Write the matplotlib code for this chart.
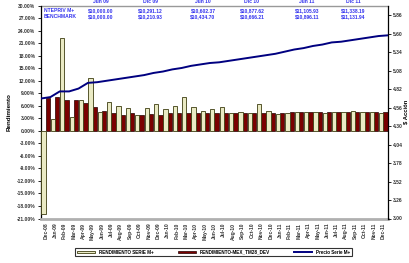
import matplotlib
matplotlib.use('Agg')
import matplotlib.pyplot as plt
import numpy as np

plt.rcParams['font.family'] = ['Liberation Sans', 'DejaVu Sans']

# month labels (Dec-08 .. Dec-11)
months = ['Dec-08', 'Jan-09', 'Feb-09', 'Mar-09', 'Apr-09', 'May-09', 'Jun-09',
          'Jul-09', 'Aug-09', 'Sep-09', 'Oct-09', 'Nov-09', 'Dec-09',
          'Jan-10', 'Feb-10', 'Mar-10', 'Apr-10', 'May-10', 'Jun-10',
          'Jul-10', 'Aug-10', 'Sep-10', 'Oct-10', 'Nov-10', 'Dec-10',
          'Jan-11', 'Feb-11', 'Mar-11', 'Apr-11', 'May-11', 'Jun-11',
          'Jul-11', 'Aug-11', 'Sep-11', 'Oct-11', 'Nov-11', 'Dec-11']

# monthly yields, %
rend_serie = [-20.0, 2.9, 22.2, 3.3, 7.3, 12.7, 4.5, 7.0, 6.0, 5.5, 3.9, 5.5, 6.3,
              5.1, 6.0, 8.1, 5.7, 4.7, 5.2, 5.6, 4.3, 4.5, 4.3, 6.5, 4.7,
              4.1, 4.3, 4.5, 4.4, 4.6, 4.3, 4.5, 4.4, 4.7, 4.5, 4.6, 4.3]
rend_bench = [7.9, 8.1, 7.3, 7.3, 6.7, 5.7, 4.7, 4.3, 3.7, 4.3, 3.8, 4.0, 3.9,
              4.2, 4.3, 4.3, 4.3, 4.2, 4.3, 4.2, 4.3, 4.2, 4.3, 4.2, 4.3,
              4.3, 4.4, 4.4, 4.4, 4.4, 4.4, 4.4, 4.4, 4.4, 4.4, 4.5, 4.5]

# share price at month ends (end Nov-08 .. end Dec-11)
precio = [4.69, 4.71, 4.79, 4.79, 4.83, 4.91, 4.92, 4.94, 4.96, 4.98, 5.00,
          5.02, 5.05, 5.07, 5.10, 5.12, 5.15, 5.17, 5.19, 5.20, 5.22, 5.24,
          5.26, 5.28, 5.30, 5.32, 5.35, 5.38, 5.40, 5.43, 5.45, 5.48, 5.49,
          5.51, 5.53, 5.55, 5.57, 5.58]

# header table: growth of $10,000
periodos = ['Jun 09', 'Dic 09', 'Jun 10', 'Dic 10', 'Jun 11', 'Dic 11']
valor_serie = ['$10,000.00', '$10,291.12', '$10,602.37', '$10,877.62', '$11,105.93', '$11,338.19']
valor_bench = ['$10,000.00', '$10,210.93', '$10,434.70', '$10,666.21', '$10,896.11', '$11,131.94']
periodo_x = [101, 150, 203, 252, 307, 353]

W, H = 409, 263
fig = plt.figure(figsize=(W / 100, H / 100), dpi=100)
ax = fig.add_axes([41 / W, 1 - 218.5 / H, 347 / W, 213 / H])

x = np.arange(len(months))
bw = 0.46
ax.bar(x - bw / 2, rend_serie, width=bw, color='#EAEAC4', edgecolor='#3d3d10',
       linewidth=0.6, label='RENDIMIENTO SERIE M+', zorder=3)
ax.bar(x + bw / 2, rend_bench, width=bw, color='#7A0000', edgecolor='#220000',
       linewidth=0.5, label='RENDIMIENTO-MEX_TM28_DEV', zorder=2)

ax.set_xlim(-0.5, len(months) - 0.5)
ax.set_ylim(-21, 30)
yt = np.arange(-21, 31, 3)
ax.set_yticks(yt)
ax.set_yticklabels(['%.2f%%' % v for v in yt])
ax.set_xticks(x)
ax.set_xticklabels(months)
ax.set_ylabel('Rendimiento', fontsize=4.5, fontweight='bold', labelpad=4)

for s in ['top', 'right']:
    ax.spines[s].set_visible(False)
ax.spines['left'].set_linewidth(0.9)
ax.spines['bottom'].set_color('#b0b0b0')
ax.spines['bottom'].set_linewidth(2)

ax2 = ax.twinx()
xp = np.arange(len(precio)) - 0.5
ax2.plot(xp, precio, color='#000080', linewidth=1.4, label='Precio Serie M+', zorder=4)
ax2.set_ylim(3.0, 6.0)
rt = np.arange(3.00, 5.87, 0.26)
ax2.set_yticks(rt)
ax2.set_yticklabels(['%.2f' % v for v in rt])
ax2.set_ylabel('$ Acción', fontsize=4.2, fontweight='bold', labelpad=0.5)
for s in ['top', 'left', 'bottom']:
    ax2.spines[s].set_visible(False)
ax2.spines['right'].set_linewidth(0.9)

# tick styling, applied after the twin axis exists
ax.tick_params(axis='y', length=2, width=0.6, pad=2, labelsize=3.6, labelcolor='#333333')
ax.tick_params(axis='x', length=0, pad=3, labelsize=3.6, labelcolor='#333333',
               labelrotation=90)
ax2.tick_params(axis='y', length=2, width=0.6, pad=1.5, labelsize=3.6, labelcolor='#333333')
ax2.tick_params(axis='x', labelbottom=False, labeltop=False, length=0)
for lab in ax.get_xticklabels() + ax.get_yticklabels() + ax2.get_yticklabels():
    lab.set_fontweight('bold')

# gray rule along the top
ax.axhline(30, color='#999999', linewidth=1.0, clip_on=False)

# header table
blue = '#3333EE'
fig.text(44 / W, 1 - 10.3 / H, 'NTEPRIV M+', fontsize=3.6, fontweight='bold', color=blue, va='center')
fig.text(44 / W, 1 - 16.3 / H, 'BENCHMARK', fontsize=3.6, fontweight='bold', color=blue, va='center')
for p, vs, vb, px in zip(periodos, valor_serie, valor_bench, periodo_x):
    fig.text(px / W, 1 - 1.5 / H, p, fontsize=3.6, fontweight='bold', color=blue, ha='center', va='center')
    fig.text(px / W, 1 - 10.3 / H, vs, fontsize=3.6, fontweight='bold', color=blue, ha='center', va='center')
    fig.text(px / W, 1 - 16.3 / H, vb, fontsize=3.6, fontweight='bold', color=blue, ha='center', va='center')

h1, l1 = ax.get_legend_handles_labels()
h2, l2 = ax2.get_legend_handles_labels()
leg = fig.legend(h1 + h2, l1 + l2, loc='center', ncol=3, mode='expand',
                 bbox_to_anchor=(73 / W, 1 - 257 / H, 281 / W, 10 / H),
                 fontsize=3.3, frameon=True, fancybox=False, edgecolor='black',
                 handlelength=4, handleheight=0.5, borderpad=0.4, columnspacing=1)
leg.get_frame().set_linewidth(0.8)
for t in leg.get_texts():
    t.set_fontweight('bold')

fig.savefig('out.png', dpi=100)
